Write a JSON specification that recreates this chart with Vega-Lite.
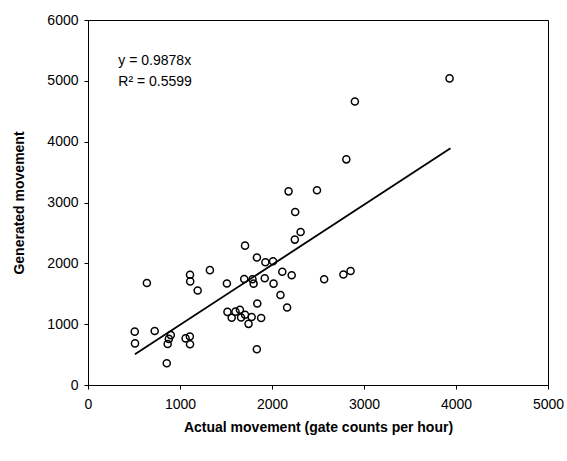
{
  "$schema": "https://vega.github.io/schema/vega-lite/v6.json",
  "width": 460,
  "height": 365,
  "autosize": "none",
  "padding": {"left": 88, "top": 20, "right": 19, "bottom": 76},
  "background": "white",
  "config": {
    "font": "Liberation Sans",
    "view": {"stroke": "black", "strokeWidth": 1},
    "axis": {
      "grid": false,
      "domainColor": "black",
      "tickColor": "black",
      "tickSize": 4,
      "labelFont": "Liberation Sans",
      "labelFontSize": 14,
      "labelColor": "black",
      "titleFont": "Liberation Sans",
      "titleFontSize": 14,
      "titleFontWeight": "bold",
      "titleColor": "black"
    }
  },
  "datasets": {
    "points": [
      {"actual": 640, "generated": 1678},
      {"actual": 1109, "generated": 1813},
      {"actual": 1111, "generated": 1703},
      {"actual": 1192, "generated": 1553},
      {"actual": 1325, "generated": 1888},
      {"actual": 1510, "generated": 1668},
      {"actual": 1698, "generated": 1743},
      {"actual": 1707, "generated": 2291},
      {"actual": 508, "generated": 877},
      {"actual": 511, "generated": 684},
      {"actual": 725, "generated": 888},
      {"actual": 879, "generated": 758},
      {"actual": 866, "generated": 674},
      {"actual": 900, "generated": 820},
      {"actual": 1061, "generated": 766},
      {"actual": 1107, "generated": 796},
      {"actual": 1109, "generated": 669},
      {"actual": 856, "generated": 357},
      {"actual": 1836, "generated": 2095},
      {"actual": 1928, "generated": 2018},
      {"actual": 2011, "generated": 2033},
      {"actual": 2248, "generated": 2390},
      {"actual": 2311, "generated": 2515},
      {"actual": 1800, "generated": 1666},
      {"actual": 1788, "generated": 1739},
      {"actual": 1921, "generated": 1755},
      {"actual": 2017, "generated": 1666},
      {"actual": 2112, "generated": 1863},
      {"actual": 2214, "generated": 1803},
      {"actual": 2567, "generated": 1738},
      {"actual": 2776, "generated": 1816},
      {"actual": 2854, "generated": 1875},
      {"actual": 2092, "generated": 1479},
      {"actual": 2164, "generated": 1275},
      {"actual": 1516, "generated": 1202},
      {"actual": 1562, "generated": 1105},
      {"actual": 1603, "generated": 1206},
      {"actual": 1651, "generated": 1237},
      {"actual": 1664, "generated": 1110},
      {"actual": 1707, "generated": 1156},
      {"actual": 1745, "generated": 1005},
      {"actual": 1779, "generated": 1117},
      {"actual": 1840, "generated": 1339},
      {"actual": 1882, "generated": 1100},
      {"actual": 1835, "generated": 587},
      {"actual": 3930, "generated": 5040},
      {"actual": 2901, "generated": 4661},
      {"actual": 2808, "generated": 3709},
      {"actual": 2180, "generated": 3183},
      {"actual": 2489, "generated": 3201},
      {"actual": 2252, "generated": 2844}
    ],
    "trend": [
      {"actual": 510, "generated": 504},
      {"actual": 3940, "generated": 3892}
    ],
    "notes": [
      {"label": "y = 0.9878x", "actual": 330, "generated": 5330},
      {"label": "R² = 0.5599", "actual": 330, "generated": 4980}
    ]
  },
  "layer": [
    {
      "data": {"name": "points"},
      "mark": {"type": "point", "shape": "circle", "filled": false, "stroke": "black", "strokeWidth": 1.5, "size": 50, "opacity": 1},
      "encoding": {
        "x": {
          "field": "actual", "type": "quantitative",
          "scale": {"domain": [0, 5000], "nice": false, "zero": true},
          "axis": {"values": [0, 1000, 2000, 3000, 4000, 5000], "format": "d", "labelPadding": 8, "title": "Actual movement (gate counts per hour)", "titlePadding": 9, "labelFlush": false}
        },
        "y": {
          "field": "generated", "type": "quantitative",
          "scale": {"domain": [0, 6000], "nice": false, "zero": true},
          "axis": {"values": [0, 1000, 2000, 3000, 4000, 5000, 6000], "format": "d", "labelPadding": 6, "title": "Generated movement", "titlePadding": 20, "labelFlush": false}
        }
      }
    },
    {
      "data": {"name": "trend"},
      "mark": {"type": "line", "color": "black", "strokeWidth": 1.8},
      "encoding": {
        "x": {"field": "actual", "type": "quantitative"},
        "y": {"field": "generated", "type": "quantitative"}
      }
    },
    {
      "data": {"name": "notes"},
      "mark": {"type": "text", "align": "left", "baseline": "middle", "fontSize": 14, "font": "Liberation Sans", "color": "black"},
      "encoding": {
        "x": {"field": "actual", "type": "quantitative"},
        "y": {"field": "generated", "type": "quantitative"},
        "text": {"field": "label"}
      }
    }
  ]
}
